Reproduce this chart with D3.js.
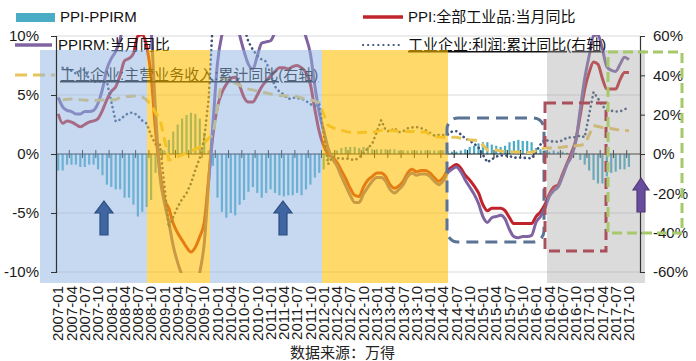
<!DOCTYPE html>
<html><head><meta charset="utf-8">
<script src="https://cdn.jsdelivr.net/npm/d3@7"></script>
<style>
html,body{margin:0;padding:0;background:#fff;}
svg{display:block;font-family:"Liberation Sans",Arial,"Noto Sans CJK SC",sans-serif;}
</style></head><body>
<svg id="chart" width="696" height="361"></svg>
<script>
// ---------- DATA ----------
const years = [2007,2008,2009,2010,2011,2012,2013,2014,2015,2016,2017];
const months = [];
years.forEach(y => { for (let m = 1; m <= 12; m++) months.push(y + "-" + (m < 10 ? "0" + m : m)); });
const tickLabels = months.filter((d, i) => i % 3 === 0 && i <= 129);

// PPI: 全部工业品 当月同比 (%), 2007-01 .. 2017-10
const ppi = [
 3.4,2.6,2.8,2.7,2.5,2.3,2.5,2.7,2.8,3.0,3.7,4.6,
 5.3,5.7,6.7,7.9,8.1,8.5,10.0,10.1,9.1,6.6,2.0,-1.5,
 -3.8,-4.6,-5.9,-6.7,-7.3,-7.9,-8.3,-7.9,-7.0,-5.8,-2.1,1.7,
 4.0,5.2,5.9,6.4,6.5,5.8,4.8,4.4,4.4,5.0,5.7,6.2,
 6.6,7.0,7.3,7.3,7.2,7.4,7.5,7.3,6.9,5.9,3.8,1.9,
 0.7,0.0,-0.3,-0.7,-1.4,-2.1,-2.9,-3.5,-3.6,-2.8,-2.2,-1.9,
 -1.6,-1.6,-1.9,-2.6,-2.9,-2.7,-2.3,-1.6,-1.3,-1.5,-1.4,-1.4,
 -1.6,-2.0,-2.3,-2.0,-1.4,-1.1,-0.9,-1.2,-1.8,-2.2,-2.7,-3.3,
 -4.3,-4.8,-4.6,-4.6,-4.6,-4.8,-5.4,-5.9,-5.9,-5.9,-5.9,-5.9,
 -5.3,-4.9,-4.3,-3.4,-2.8,-2.6,-1.7,-0.8,0.1,1.2,3.3,5.5,
 6.9,7.8,7.6,6.4,5.5,5.5,5.5,6.3,6.9,6.9];

// PPIRM: 当月同比 (%)
const ppirm = [
 4.8,4.0,3.7,3.6,3.4,3.4,3.6,3.6,3.7,4.3,5.5,7.2,
 8.1,8.7,9.7,11.6,11.8,12.8,15.3,15.0,13.6,10.5,3.6,-1.9,
 -4.1,-5.8,-7.8,-9.2,-10.3,-11.2,-11.8,-11.3,-10.0,-7.6,-2.4,2.7,
 7.7,10.1,11.3,11.4,11.7,10.1,8.7,7.6,7.2,8.3,9.4,9.5,
 9.6,10.3,10.8,10.9,10.7,10.9,10.8,10.8,9.9,8.5,5.8,3.5,
 2.0,0.5,-0.4,-1.0,-1.9,-2.7,-3.5,-4.1,-4.1,-3.4,-2.8,-2.3,
 -2.0,-2.0,-2.3,-3.0,-3.3,-3.0,-2.6,-1.9,-1.6,-1.8,-1.7,-1.7,
 -1.9,-2.3,-2.6,-2.3,-1.6,-1.3,-1.1,-1.5,-2.2,-2.8,-3.4,-4.2,
 -5.3,-5.8,-5.4,-5.3,-5.2,-5.5,-6.4,-7.0,-7.1,-7.0,-7.0,-6.9,
 -5.8,-5.3,-4.6,-3.6,-3.1,-2.8,-1.9,-0.9,-0.2,1.1,3.8,6.4,
 8.3,10.0,10.1,8.9,7.4,7.1,7.0,7.6,8.2,8.0];

// PPI-PPIRM (%)
const spread = [
 -1.4,-1.4,-0.9,-0.9,-0.9,-1.1,-1.1,-0.9,-0.9,-1.3,-1.8,-2.6,
 -2.8,-3.0,-3.0,-3.7,-3.7,-4.3,-5.3,-4.9,-4.5,-3.9,-1.6,0.4,
 0.3,1.2,1.9,2.5,3.0,3.3,3.5,3.4,3.0,1.8,0.3,-1.0,
 -3.7,-4.9,-5.4,-5.0,-5.2,-4.3,-3.9,-3.2,-2.8,-3.3,-3.7,-3.3,
 -3.0,-3.3,-3.5,-3.6,-3.5,-3.5,-3.3,-3.5,-3.0,-2.6,-2.0,-1.6,
 -1.3,-0.5,0.1,0.3,0.5,0.6,0.6,0.6,0.5,0.6,0.6,0.4,
 0.4,0.4,0.4,0.4,0.4,0.3,0.3,0.3,0.3,0.3,0.3,0.3,
 0.3,0.3,0.3,0.3,0.2,0.2,0.2,0.3,0.4,0.6,0.7,0.9,
 1.0,1.0,0.8,0.7,0.6,0.7,1.0,1.1,1.2,1.1,1.1,1.0,
 0.5,0.4,0.3,0.2,0.3,0.2,0.2,0.1,0.3,0.1,-0.5,-0.9,
 -1.4,-2.2,-2.5,-2.5,-1.9,-1.6,-1.5,-1.3,-1.3,-1.1];

// 工业企业:利润:累计同比 (%), right axis
const profit = [
 null,43.8,43.8,42.2,41.0,42.4,43.0,37.9,36.7,37.0,36.7,36.7,
 null,16.5,17.5,19.5,20.9,21.0,19.5,17.0,15.5,9.5,4.9,4.9,
 null,-37.3,-32.0,-27.0,-22.9,-20.0,-15.0,-8.0,-2.0,7.8,28.0,70.0,
 null,119.7,76.1,72.9,81.6,85.0,64.4,57.0,53.0,50.0,48.0,47.0,
 null,34.3,31.7,30.2,27.9,28.7,28.3,28.2,27.0,25.3,24.4,25.4,
 null,-5.2,-1.3,-2.1,-2.4,-2.2,-2.7,-3.1,-1.8,0.5,3.0,5.3,
 null,17.2,12.1,11.4,13.2,11.1,11.6,13.1,13.5,13.7,13.2,12.2,
 null,9.4,9.6,9.6,9.8,11.4,11.6,10.0,7.9,6.7,5.3,3.3,
 null,-4.2,-2.7,-1.3,-0.8,-0.7,-1.0,-1.9,-1.7,-2.0,-1.9,-2.3,
 null,4.8,7.4,6.5,6.4,6.2,6.9,8.4,8.4,8.6,9.4,8.5,
 null,31.5,28.3,24.4,22.7,22.0,21.6,21.6,22.8,23.3];

// 工业企业:主营业务收入:累计同比 (%), right axis
const revenue = [
 null,27.5,27.8,28.0,27.8,27.6,27.5,27.2,27.2,27.3,27.4,27.6,
 null,27.6,28.8,29.3,29.3,29.5,29.5,29.0,27.5,25.0,21.0,18.0,
 null,-3.0,-2.8,-1.5,-0.5,0.5,1.5,2.5,3.5,5.5,8.0,10.0,
 null,38.5,38.0,37.5,36.0,35.0,33.8,33.0,32.5,32.0,31.6,31.0,
 null,30.0,29.8,29.6,29.5,29.5,29.2,28.5,28.0,27.6,27.0,26.0,
 null,14.5,13.5,12.5,12.0,11.5,11.0,10.8,10.8,11.0,11.0,11.0,
 null,12.0,12.5,12.0,11.8,11.6,11.5,11.5,11.5,11.3,11.2,11.2,
 null,8.8,8.6,8.5,8.5,8.5,8.5,8.0,7.5,7.2,7.0,7.0,
 null,2.0,2.0,2.0,1.5,1.3,1.2,1.0,1.0,0.9,0.8,0.8,
 null,2.5,3.0,3.0,3.0,3.2,3.5,3.8,4.0,4.2,4.5,4.9,
 null,14.5,14.0,13.5,13.2,13.0,12.5,12.2,12.0,11.8];

const leftTicks = [-10,-5,0,5,10];
const rightTicks = [-60,-40,-20,0,20,40,60];

// ---------- CHART ----------
const plot = {l:56, r:640, t:36, b:272};
const svg = d3.select("#chart");
const x = d3.scaleBand().domain(months).range([plot.l, plot.r]);
const yL = d3.scaleLinear().domain([-10,10]).range([plot.b, plot.t]);
const yR = d3.scaleLinear().domain([-60,60]).range([plot.b, plot.t]);
const cx = i => x(months[i]) + x.bandwidth()/2;

svg.append("defs").append("clipPath").attr("id","pc")
  .append("rect").attr("x",plot.l).attr("y",plot.t-1).attr("width",plot.r-plot.l).attr("height",plot.b-plot.t+2);

// gridlines
svg.append("g").selectAll("line").data(leftTicks.filter(d=>d!==0)).join("line")
  .attr("x1",plot.l).attr("x2",plot.r).attr("y1",d=>yL(d)).attr("y2",d=>yL(d))
  .attr("stroke","#d9d9d9").attr("stroke-width",1);

// bars
svg.append("g").selectAll("rect").data(spread).join("rect")
  .attr("x",(d,i)=>cx(i)-1.1).attr("width",2.2)
  .attr("y",d=>yL(Math.max(0,d))).attr("height",d=>Math.abs(yL(d)-yL(0)))
  .attr("fill","#4BACC6");

// zero axis with ticks
const zg = svg.append("g");
zg.append("line").attr("x1",plot.l).attr("x2",plot.r).attr("y1",yL(0)).attr("y2",yL(0))
  .attr("stroke","#1a1a1a").attr("stroke-width",1.2);
const tickPos = d3.range(1,44).map(k => x(months[k*3]));
zg.selectAll("line.t").data(tickPos).join("line").attr("class","t")
  .attr("x1",d=>d).attr("x2",d=>d).attr("y1",yL(0)-4).attr("y2",yL(0)+4)
  .attr("stroke","#1a1a1a").attr("stroke-width",1);

// lines
const lg = svg.append("g").attr("clip-path","url(#pc)");
const mkLine = (arr, yScale, curve) => d3.line().curve(curve || d3.curveLinear)
  .x(d=>cx(d.i)).y(d=>yScale(d.v))(arr.map((v,i)=>({v,i})).filter(d=>d.v!==null));
lg.append("path").attr("d",mkLine(ppi,yL,d3.curveMonotoneX)).attr("fill","none")
  .attr("stroke","#C0232B").attr("stroke-width",3).attr("stroke-linejoin","round");
lg.append("path").attr("d",mkLine(ppirm,yL,d3.curveMonotoneX)).attr("fill","none")
  .attr("stroke","#8064A2").attr("stroke-width",3).attr("stroke-linejoin","round");
lg.append("path").attr("d",mkLine(profit,yR)).attr("fill","none")
  .attr("stroke","#3c5078").attr("stroke-width",2.6).attr("stroke-linecap","round")
  .attr("stroke-dasharray","0.1 4.6");
lg.append("path").attr("d",mkLine(revenue,yR)).attr("fill","none")
  .attr("stroke","#E8C55A").attr("stroke-width",3).attr("stroke-dasharray","10 6");

// legend
const leg = svg.append("g").attr("font-size",15).attr("fill","#111");
leg.append("rect").attr("x",16).attr("y",13).attr("width",39).attr("height",9).attr("fill","#4BACC6");
leg.append("text").attr("x",60).attr("y",22).text("PPI-PPIRM");
leg.append("line").attr("x1",363).attr("x2",403).attr("y1",17).attr("y2",17).attr("stroke","#C0232B").attr("stroke-width",3.5);
leg.append("text").attr("x",408).attr("y",22).text("PPI:全部工业品:当月同比");
leg.append("line").attr("x1",15).attr("x2",52).attr("y1",45).attr("y2",45).attr("stroke","#8064A2").attr("stroke-width",3.5);
leg.append("text").attr("x",58).attr("y",50).text("PPIRM:当月同比");
leg.append("line").attr("x1",363).attr("x2",400).attr("y1",45).attr("y2",45).attr("stroke","#3c5078")
  .attr("stroke-width",2.2).attr("stroke-linecap","round").attr("stroke-dasharray","0.1 5");
leg.append("text").attr("x",408).attr("y",50).style("text-decoration","underline").text("工业企业:利润:累计同比(右轴)");
leg.append("line").attr("x1",15).attr("x2",55).attr("y1",75).attr("y2",75).attr("stroke","#E8C55A")
  .attr("stroke-width",3).attr("stroke-dasharray","12 6");
leg.append("text").attr("x",60).attr("y",80).style("text-decoration","underline").text("工业企业:主营业务收入:累计同比(右轴)");

// shaded period overlays
const shades = [
  {x0:40, x1:147, c:"#8DB3E2", o:0.5},
  {x0:147, x1:210, c:"#FFC000", o:0.58},
  {x0:210, x1:322, c:"#8DB3E2", o:0.5},
  {x0:322, x1:448, c:"#FFC000", o:0.58},
  {x0:547, x1:645, c:"#A6A6A6", o:0.4}];
svg.append("g").selectAll("rect").data(shades).join("rect")
  .attr("x",d=>d.x0).attr("width",d=>d.x1-d.x0).attr("y",50).attr("height",233)
  .attr("fill",d=>d.c).attr("fill-opacity",d=>d.o);

// axes
const axL = svg.append("g").attr("transform",`translate(${plot.l},0)`)
  .call(d3.axisLeft(yL).tickValues(leftTicks).tickFormat(d=>d+"%").tickSize(5).tickPadding(12));
const axR = svg.append("g").attr("transform",`translate(${plot.r},0)`)
  .call(d3.axisRight(yR).tickValues(rightTicks).tickFormat(d=>d+"%").tickSize(5).tickPadding(8));
[axL, axR].forEach(a => {
  a.select(".domain").attr("stroke","#333").attr("stroke-width",1.2);
  a.selectAll(".tick line").attr("stroke","#333");
  a.selectAll("text").attr("font-size",15).attr("fill","#1a1a1a")
    .attr("font-family","'Liberation Sans',Arial,sans-serif");
});

// x labels
svg.append("g").selectAll("text").data(tickLabels).join("text")
  .attr("transform",d=>`translate(${x(d)+x.bandwidth()/2},286) rotate(-90)`)
  .attr("text-anchor","end").attr("dy","0.35em").attr("font-size",15).attr("fill","#1a1a1a")
  .text(d=>d);

// arrows
function arrow(cxp, tip, base, hw, hh, sw, fill, stroke){
  const p = d3.path();
  p.moveTo(cxp, tip); p.lineTo(cxp+hw/2, tip+hh); p.lineTo(cxp+sw/2, tip+hh);
  p.lineTo(cxp+sw/2, base); p.lineTo(cxp-sw/2, base); p.lineTo(cxp-sw/2, tip+hh);
  p.lineTo(cxp-hw/2, tip+hh); p.closePath();
  svg.append("path").attr("d",p.toString()).attr("fill",fill).attr("stroke",stroke).attr("stroke-width",1.2);
}
arrow(104, 201, 235, 18, 12, 8, "#3F66A3", "#2C4C7E");
arrow(283, 201, 235, 18, 12, 8, "#3F66A3", "#2C4C7E");
arrow(641, 178, 212, 16, 12, 8, "#6A4C9C", "#523A7C");

// dashed annotation boxes
svg.append("rect").attr("x",447).attr("y",118).attr("width",97).attr("height",124).attr("rx",11)
  .attr("fill","none").attr("stroke","#5B7395").attr("stroke-width",3).attr("stroke-dasharray","12 7");
svg.append("rect").attr("x",545).attr("y",103).attr("width",61).attr("height",148)
  .attr("fill","none").attr("stroke","#A9505C").attr("stroke-width",3).attr("stroke-dasharray","11 6");
svg.append("rect").attr("x",608).attr("y",52).attr("width",74).attr("height",181)
  .attr("fill","none").attr("stroke","#A6C96A").attr("stroke-width",3).attr("stroke-dasharray","10 5");

// source
svg.append("text").attr("x",290).attr("y",358).attr("font-size",15).attr("fill","#222")
  .attr("font-family","'Noto Sans CJK SC',sans-serif").text("数据来源：万得");
</script>
</body></html>
